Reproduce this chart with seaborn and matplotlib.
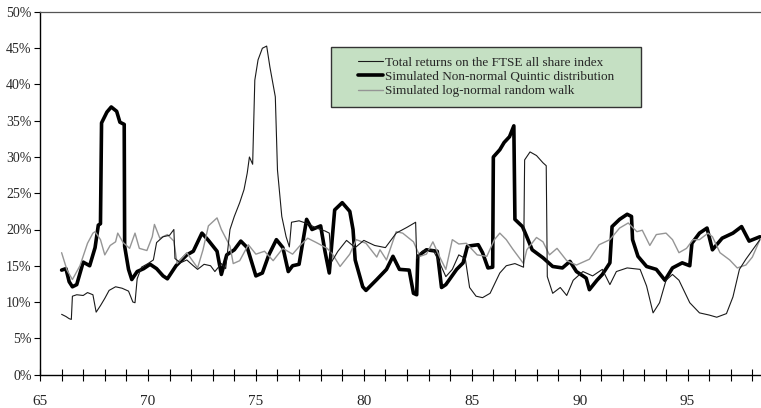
import pandas as pd
import numpy as np
import matplotlib
matplotlib.use("Agg")
import matplotlib.pyplot as plt
import seaborn as sns
from matplotlib.patches import Rectangle
from matplotlib.ticker import MultipleLocator, FuncFormatter

# Total returns on the FTSE all share index (thin black)
ftse_year = [66.0, 66.2, 66.35, 66.45, 66.5, 66.7, 67.0, 67.2, 67.45, 67.6, 67.8, 68.0, 68.2, 68.5,
             68.8, 69.1, 69.3, 69.4, 69.5, 69.7, 70.0, 70.25, 70.4, 70.7, 71.0, 71.2, 71.25, 71.5,
             71.8, 72.1, 72.3, 72.6, 72.9, 73.1, 73.4, 73.6, 73.8, 74.0, 74.25, 74.45, 74.6, 74.7,
             74.85, 74.95, 75.1, 75.3, 75.5, 75.65, 75.9, 76.0, 76.2, 76.4, 76.55, 76.65, 77.0,
             77.4, 77.8, 78.2, 78.4, 78.5, 78.8, 79.2, 79.6, 80.0, 80.5, 81.0, 81.5, 82.0, 82.4,
             82.45, 82.7, 83.2, 83.5, 83.8, 84.1, 84.4, 84.7, 84.9, 85.2, 85.5, 85.85, 86.3, 86.6,
             87.0, 87.4, 87.45, 87.7, 88.0, 88.3, 88.45, 88.5, 88.75, 89.1, 89.4, 89.7, 90.15,
             90.6, 91.05, 91.4, 91.7, 92.2, 92.8, 93.1, 93.4, 93.7, 94.0, 94.3, 94.6, 95.1, 95.55,
             96.0, 96.35, 96.8, 97.1, 97.4, 97.7, 98.35]
ftse_vol = [8.3, 8.0, 7.7, 7.6, 10.8, 11.0, 10.9, 11.3, 11.0, 8.6, 9.5, 10.5, 11.6, 12.1,
            11.9, 11.5, 10.0, 9.9, 13.2, 14.8, 15.3, 15.8, 18.2, 19.0, 19.2, 20.0, 16.0, 15.4,
            15.8, 15.0, 14.5, 15.2, 15.0, 14.2, 15.3, 14.6, 20.0, 21.8, 23.7, 25.5, 27.8, 30.0,
            29.0, 40.6, 43.4, 45.0, 45.3, 42.4, 38.3, 28.2, 21.8, 19.0, 17.6, 21.0, 21.2,
            20.8, 20.2, 19.8, 19.5, 15.5, 17.0, 18.5, 17.5, 18.5, 17.8, 17.5, 19.5, 20.3, 21.0,
            16.0, 17.0, 17.2, 15.5, 13.5, 14.5, 16.5, 16.0, 12.0, 10.8, 10.6, 11.2, 14.0, 15.0,
            15.3, 14.8, 29.6, 30.7, 30.2, 29.2, 28.8, 13.5, 11.2, 12.0, 10.9, 13.0, 14.2,
            13.6, 14.5, 12.4, 14.2, 14.7, 14.5, 12.2, 8.5, 9.9, 13.0, 13.8, 13.0, 9.9, 8.5,
            8.2, 7.9, 8.4, 10.7, 14.5, 15.9, 18.6]

# Simulated Non-normal Quintic distribution (thick black)
quin_year = [66.0, 66.2, 66.35, 66.5, 66.7, 67.0, 67.3, 67.55, 67.7, 67.8, 67.85, 68.1, 68.3,
             68.55, 68.7, 68.9, 68.92, 69.1, 69.25, 69.5, 69.8, 70.1, 70.4, 70.7, 70.9, 71.1,
             71.3, 71.8, 72.1, 72.5, 72.8, 73.2, 73.4, 73.65, 74.0, 74.3, 74.6, 75.0, 75.3, 75.6,
             75.95, 76.25, 76.5, 76.7, 77.0, 77.35, 77.6, 78.0, 78.2, 78.4, 78.65, 79.0, 79.35,
             79.5, 79.6, 79.95, 80.1, 80.6, 81.05, 81.35, 81.65, 82.1, 82.3, 82.45, 82.5, 82.9,
             83.4, 83.6, 83.8, 84.3, 84.6, 84.8, 85.3, 85.5, 85.75, 85.97, 86.0, 86.3, 86.5,
             86.75, 86.95, 87.0, 87.35, 87.55, 87.8, 88.3, 88.75, 89.2, 89.55, 89.85, 90.3,
             90.45, 90.8, 91.05, 91.4, 91.5, 91.85, 92.2, 92.4, 92.45, 92.7, 93.1, 93.55, 93.95,
             94.3, 94.75, 95.1, 95.2, 95.55, 95.9, 96.15, 96.6, 97.1, 97.5, 97.85, 98.35]
quin_vol = [14.4, 14.6, 12.8, 12.1, 12.4, 15.5, 15.0, 17.5, 20.6, 20.8, 34.7, 36.2, 36.9,
            36.3, 34.8, 34.5, 17.7, 14.5, 13.1, 14.2, 14.6, 15.2, 14.6, 13.6, 13.2, 14.1,
            15.0, 16.5, 17.0, 19.5, 18.5, 17.0, 13.8, 16.5, 17.2, 18.4, 17.5, 13.6, 14.0, 16.5,
            18.6, 17.5, 14.2, 15.0, 15.2, 21.4, 20.0, 20.5, 17.0, 14.0, 22.7, 23.7, 22.5,
            20.0, 15.8, 12.1, 11.6, 13.1, 14.5, 16.3, 14.5, 14.4, 11.2, 11.0, 16.3, 17.2,
            17.0, 12.0, 12.4, 14.5, 15.4, 17.7, 17.9, 16.8, 14.7, 14.8, 30.0, 31.0, 32.0,
            32.8, 34.3, 21.4, 20.4, 19.0, 17.2, 16.1, 14.9, 14.7, 15.6, 14.2, 13.3,
            11.7, 13.0, 13.8, 15.4, 20.4, 21.4, 22.1, 21.8, 18.6, 16.3, 14.9, 14.5, 13.0,
            14.7, 15.4, 15.0, 18.1, 19.5, 20.2, 17.2, 18.8, 19.5, 20.4, 18.4, 19.0]

# Simulated log-normal random walk (grey)
logn_year = [66.0, 66.25, 66.5, 66.85, 67.2, 67.45, 67.55, 67.8, 68.0, 68.25, 68.5, 68.6, 68.85,
             69.15, 69.4, 69.6, 69.95, 70.2, 70.3, 70.55, 70.9, 71.2, 71.35, 71.8, 72.3, 72.55,
             72.8, 73.2, 73.4, 73.8, 73.95, 74.25, 74.65, 75.0, 75.4, 75.8, 76.25, 76.7, 77.05,
             77.4, 77.8, 78.3, 78.55, 78.9, 79.35, 79.65, 80.1, 80.6, 80.75, 81.05, 81.5, 81.8,
             82.3, 82.6, 82.9, 83.2, 83.5, 83.8, 84.1, 84.4, 84.75, 85.25, 85.7, 86.05, 86.3,
             86.6, 86.9, 87.4, 87.55, 88.0, 88.3, 88.6, 88.95, 89.4, 89.85, 90.15, 90.45, 90.9,
             91.4, 91.85, 92.25, 92.65, 92.9, 93.25, 93.55, 94.0, 94.3, 94.6, 94.95, 95.25,
             95.55, 95.95, 96.15, 96.5, 96.95, 97.3, 97.7, 98.0, 98.35]
logn_vol = [16.8, 14.4, 13.1, 15.0, 18.1, 19.5, 19.7, 18.6, 16.5, 17.8, 18.3, 19.5, 18.2,
            17.4, 19.5, 17.4, 17.1, 19.0, 20.7, 18.8, 19.3, 18.4, 15.3, 16.8, 14.7, 17.2,
            20.5, 21.6, 20.0, 17.7, 15.3, 15.7, 17.9, 16.6, 17.0, 15.7, 17.4, 16.6, 17.8,
            18.8, 18.2, 17.4, 16.6, 14.9, 16.6, 18.6, 18.1, 16.2, 17.2, 15.8, 19.7, 19.5,
            18.3, 16.3, 16.6, 18.3, 16.3, 14.5, 18.6, 18.0, 18.1, 16.5, 16.3, 18.6, 19.5,
            18.6, 17.3, 15.3, 17.2, 18.9, 18.3, 16.5, 17.4, 15.7, 15.1, 15.5, 15.9, 17.9,
            18.6, 20.2, 20.9, 19.7, 19.9, 17.8, 19.3, 19.5, 18.6, 16.8, 17.4, 18.6,
            18.6, 19.5, 19.0, 16.8, 15.8, 14.7, 15.1, 16.2, 18.6]

labels = ["Total returns on the FTSE all share index",
          "Simulated Non-normal Quintic distribution",
          "Simulated log-normal random walk"]

sns.set_theme(style="white")
plt.rcParams['font.family'] = ['Liberation Serif', 'DejaVu Serif']

fig = plt.figure(figsize=(7.61, 4.08), dpi=100)
ax = fig.add_axes([0.0526, 0.0821, 0.9474, 0.8885])

df_f = pd.DataFrame({"year": ftse_year, "vol": np.array(ftse_vol) / 100})
df_q = pd.DataFrame({"year": quin_year, "vol": np.array(quin_vol) / 100})
df_l = pd.DataFrame({"year": logn_year, "vol": np.array(logn_vol) / 100})

sns.lineplot(data=df_q, x="year", y="vol", ax=ax, color="black", lw=2.6,
             estimator=None, sort=False, label=labels[1], zorder=3)
sns.lineplot(data=df_l, x="year", y="vol", ax=ax, color="#959595", lw=1.0,
             estimator=None, sort=False, label=labels[2], zorder=4)
sns.lineplot(data=df_f, x="year", y="vol", ax=ax, color="#1a1a1a", lw=0.8,
             estimator=None, sort=False, label=labels[0], zorder=5)

ax.set_xlim(65, 98.4)
ax.set_ylim(0, 0.5)
ax.set_xlabel("")
ax.set_ylabel("")

ax.yaxis.set_major_locator(MultipleLocator(0.05))
ax.yaxis.set_major_formatter(FuncFormatter(lambda v, p: f"{v * 100:.0f}%"))
ax.set_xticks(np.arange(65, 99, 1))
ax.set_xticklabels([str(y) if y % 5 == 0 else "" for y in range(65, 99)])

ax.tick_params(axis="y", direction="out", length=4, width=0.8, color="black",
               labelsize=10, pad=2, left=True)
ax.tick_params(axis="x", direction="inout", length=8, width=0.8, color="black",
               labelsize=11, pad=11, bottom=True)

for side in ["left", "bottom"]:
    ax.spines[side].set_color("black")
    ax.spines[side].set_linewidth(1.0)
ax.spines["top"].set_color("#555555")
ax.spines["top"].set_linewidth(0.9)
ax.spines["right"].set_visible(False)

# legend box
box = Rectangle((0.4036, 0.738), 0.43, 0.1655, transform=ax.transAxes,
                facecolor="#c5e0c3", edgecolor="#333333", lw=1.0, zorder=6)
ax.add_patch(box)
handles, labs = ax.get_legend_handles_labels()
order = [labs.index(l) for l in labels]
leg = ax.legend([handles[i] for i in order], [labs[i] for i in order],
                loc="center", bbox_to_anchor=(0.6186, 0.8208), frameon=False,
                fontsize=9.5, handlelength=1.9, handletextpad=0.1, labelspacing=0.15,
                borderpad=0.2)
leg.set_zorder(7)

fig.savefig("out.png", dpi=100)
